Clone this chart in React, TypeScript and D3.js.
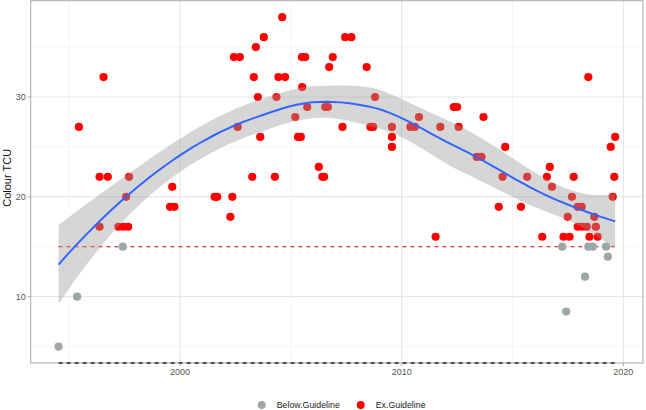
import React from 'react';
import * as d3 from 'd3';

// ---- data ----
const exYear = [
  1995.44, 1996.55, 1996.37, 1996.74, 1997.7, 1999.65, 1997.57, 1996.37, 1997.22, 1997.45,
  1997.66, 1999.55, 1999.75, 2001.56, 2001.68, 2002.36, 2002.27, 2002.6, 2003.26, 2004.28,
  2003.62, 2003.51, 2004.35, 2003.33, 2004.44, 2004.74, 2002.43, 2002.7, 2003.42, 2003.78,
  2004.61, 2005.5, 2005.65, 2005.51, 2005.74, 2005.2, 2005.32, 2005.45, 2006.26, 2006.42,
  2006.5, 2006.55, 2006.67, 2006.73, 2006.89, 2007.45, 2007.73, 2007.33, 2008.42, 2008.8,
  2008.59, 2008.71, 2009.56, 2009.56, 2009.56, 2010.39, 2010.59, 2010.78, 2011.53, 2011.74,
  2012.35, 2012.5, 2012.57, 2013.69, 2013.39, 2013.6, 2014.67, 2014.55, 2014.38, 2015.38,
  2015.66, 2016.34, 2016.68, 2016.55, 2016.78, 2017.3, 2017.57, 2017.76, 2017.68, 2017.49,
  2017.94, 2018.12, 2017.94, 2018.14, 2018.35, 2018.69, 2018.76, 2018.47, 2018.84, 2018.42,
  2019.63, 2019.43, 2019.59, 2019.52,
];
const exValue = [
  27, 32, 22, 22, 22, 21, 20, 17, 17, 17,
  17, 19, 19, 20, 20, 20, 18, 27, 22, 22,
  26, 30, 30, 32, 32, 32, 34, 34, 35, 36,
  38, 34, 34, 31, 29, 28, 26, 26, 23, 22,
  22, 29, 29, 33, 34, 36, 36, 27, 33, 30,
  27, 27, 27, 26, 25, 27, 27, 28, 16, 27,
  29, 29, 27, 28, 24, 24, 25, 22, 19, 19,
  22, 16, 23, 22, 21, 16, 16, 22, 20, 18,
  19, 19, 17, 17, 17, 18, 17, 16, 16, 32,
  26, 25, 22, 20,
];
const belowYear = [1994.52, 1995.36, 1997.42, 2017.24, 2017.42, 2018.27, 2018.42, 2018.62, 2019.22, 2019.3];
const belowValue = [5, 10, 15, 15, 8.5, 12, 15, 15, 15, 14];

const guidelineValue = 15;
const xTicks = [2000, 2010, 2020];
const xMinorTicks = [1995, 2005, 2015];
const yTicks = [10, 20, 30];
const yMinorTicks = [5, 15, 25, 35];
const seriesNames = ['Below.Guideline', 'Ex.Guideline'];
const seriesColors = ['#9DA7A7', '#FF0000'];
const yLabel = 'Colour TCU';

// ---- loess (span 0.75, degree 2, kd-tree + Hermite interpolation) with standard errors ----
function invert3(m: number[][]) {
  const [a, b, c] = m[0];
  const [d, e, f] = m[1];
  const [g, h, i] = m[2];
  const A = e * i - f * h, B = -(d * i - f * g), C = d * h - e * g;
  const D = -(b * i - c * h), E = a * i - c * g, F = -(a * h - b * g);
  const G = b * f - c * e, H = -(a * f - c * d), I = a * e - b * d;
  const det = a * A + b * B + c * C;
  return [
    [A / det, D / det, G / det],
    [B / det, E / det, H / det],
    [C / det, F / det, I / det],
  ];
}

// returns operator vectors for the local value and local slope at x0
function localOperator(xs: number[], x0: number, span: number) {
  const n = xs.length;
  const d = xs.map((x) => Math.abs(x - x0));
  const sorted = [...d].sort((p, q) => p - q);
  const q = Math.floor(n * span);
  const h = Math.max(sorted[q - 1], 1e-9) * 1.000001;
  const w = d.map((di) => {
    const r = di / h;
    return r < 1 ? Math.pow(1 - r * r * r, 3) : 0;
  });
  const S = [[0, 0, 0], [0, 0, 0], [0, 0, 0]];
  for (let k = 0; k < n; k++) {
    const t = xs[k] - x0;
    const bs = [1, t, t * t];
    for (let a = 0; a < 3; a++) for (let b = 0; b < 3; b++) S[a][b] += w[k] * bs[a] * bs[b];
  }
  const inv = invert3(S);
  const val = xs.map((x, k) => {
    const t = x - x0;
    return w[k] * (inv[0][0] + inv[0][1] * t + inv[0][2] * t * t);
  });
  const slope = xs.map((x, k) => {
    const t = x - x0;
    return w[k] * (inv[1][0] + inv[1][1] * t + inv[1][2] * t * t);
  });
  return { val, slope };
}

function kdVertices(xs: number[], span: number) {
  const s = [...xs].sort((a, b) => a - b);
  const n = s.length;
  const fc = Math.floor(n * span * 0.2);
  const lo = s[0], hi = s[n - 1];
  const mu = 0.005 * Math.max(hi - lo, 1e-10);
  const verts = [lo - mu, hi + mu];
  const split = (l: number, u: number) => {
    if (u - l + 1 <= fc) return;
    const m = Math.floor((l + u) / 2);
    const v = (s[m] + s[m + 1]) / 2;
    verts.push(v);
    split(l, m);
    split(m + 1, u);
  };
  split(0, n - 1);
  return Array.from(new Set(verts)).sort((a, b) => a - b);
}

function tQuantile975(df: number) {
  const z = 1.959964;
  return z + (z ** 3 + z) / (4 * df) + (5 * z ** 5 + 16 * z ** 3 + 3 * z) / (96 * df * df);
}

function loessSmooth(xs: number[], ys: number[], span = 0.75, nOut = 80) {
  const n = xs.length;
  const verts = kdVertices(xs, span);
  const ops = verts.map((v) => localOperator(xs, v, span));
  const interp = (x0: number) => {
    let j = d3.bisectRight(verts, x0) - 1;
    j = Math.max(0, Math.min(verts.length - 2, j));
    const v0 = verts[j], v1 = verts[j + 1];
    const hh = v1 - v0;
    const t = (x0 - v0) / hh;
    const h00 = 2 * t ** 3 - 3 * t ** 2 + 1;
    const h10 = t ** 3 - 2 * t ** 2 + t;
    const h01 = -2 * t ** 3 + 3 * t ** 2;
    const h11 = t ** 3 - t ** 2;
    const a = ops[j], b = ops[j + 1];
    return a.val.map(
      (_, k) => h00 * a.val[k] + h10 * hh * a.slope[k] + h01 * b.val[k] + h11 * hh * b.slope[k]
    );
  };
  const L = xs.map((x) => interp(x));
  const fitted = L.map((row) => d3.sum(row, (l, k) => l * ys[k]));
  const rss = d3.sum(fitted, (f, k) => (ys[k] - f) ** 2);
  const IL = L.map((row, r) => row.map((v, c) => (r === c ? 1 : 0) - v));
  const M: number[][] = [];
  for (let a = 0; a < n; a++) M.push(new Array(n).fill(0));
  for (let a = 0; a < n; a++) {
    for (let b = a; b < n; b++) {
      let s = 0;
      for (let k = 0; k < n; k++) s += IL[k][a] * IL[k][b];
      M[a][b] = s;
      M[b][a] = s;
    }
  }
  let one = 0, two = 0;
  for (let a = 0; a < n; a++) {
    one += M[a][a];
    for (let b = 0; b < n; b++) two += M[a][b] * M[a][b];
  }
  const sigma = Math.sqrt(rss / one);
  const df = (one * one) / two;
  const tq = tQuantile975(df);
  const [lo, hi] = d3.extent(xs) as [number, number];
  const out: { x: number; y: number; ymin: number; ymax: number }[] = [];
  for (let i = 0; i < nOut; i++) {
    const x0 = lo + ((hi - lo) * i) / (nOut - 1);
    const l = interp(x0);
    const y = d3.sum(l, (v, k) => v * ys[k]);
    const se = sigma * Math.sqrt(d3.sum(l, (v) => v * v));
    out.push({ x: x0, y, ymin: y - tq * se, ymax: y + tq * se });
  }
  return out;
}

export default function App() {
  const W = 646, H = 410;
  const left = 30.7, right = 643, top = 0.7, bottom = 363;
  const font = "'Liberation Sans', Arial, Helvetica, sans-serif";

  const allX = [...belowYear, ...exYear];
  const allY = [...belowValue, ...exValue];
  const [xMin, xMax] = d3.extent(allX) as [number, number];
  const [yMin, yMax] = d3.extent(allY) as [number, number];
  const xPad = (xMax - xMin) * 0.05;
  const yPad = (yMax - yMin) * 0.05;

  const x = d3.scaleLinear().domain([xMin - xPad, xMax + xPad]).range([left, right]);
  const y = d3.scaleLinear().domain([yMin - yPad, yMax + yPad]).range([bottom, top]);

  const smooth = loessSmooth(allX, allY);
  const area = d3
    .area<{ x: number; ymin: number; ymax: number }>()
    .x((d) => x(d.x))
    .y0((d) => y(d.ymin))
    .y1((d) => y(d.ymax));
  const line = d3
    .line<{ x: number; y: number }>()
    .x((d) => x(d.x))
    .y((d) => y(d.y));

  const r = 4.1;
  const baseValue = y.domain()[0];

  return (
    <svg
      width={W}
      height={H}
      style={{ position: 'absolute', left: 0, top: 0, background: '#fff' }}
      fontFamily={font}
    >
      <defs>
        <clipPath id="panel">
          <rect x={left} y={top} width={right - left} height={bottom - top} />
        </clipPath>
      </defs>
      {/* grid */}
      {yMinorTicks.map((t) => (
        <line key={'ym' + t} x1={left} x2={right} y1={y(t)} y2={y(t)} stroke="#efefef" strokeWidth={0.6} />
      ))}
      {xMinorTicks.map((t) => (
        <line key={'xm' + t} x1={x(t)} x2={x(t)} y1={top} y2={bottom} stroke="#efefef" strokeWidth={0.6} />
      ))}
      {yTicks.map((t) => (
        <line key={'yg' + t} x1={left} x2={right} y1={y(t)} y2={y(t)} stroke="#e4e4e4" strokeWidth={1} />
      ))}
      {xTicks.map((t) => (
        <line key={'xg' + t} x1={x(t)} x2={x(t)} y1={top} y2={bottom} stroke="#e4e4e4" strokeWidth={1} />
      ))}

      <g clipPath="url(#panel)">
        <line
          x1={x(xMin)}
          x2={x(xMax)}
          y1={y(guidelineValue)}
          y2={y(guidelineValue)}
          stroke="#FF0000"
          strokeWidth={1}
          strokeDasharray="4,4"
        />
        {belowYear.map((yr, i) => (
          <circle key={'b' + i} cx={x(yr)} cy={y(belowValue[i])} r={r} fill={seriesColors[0]} />
        ))}
        {exYear.map((yr, i) => (
          <circle key={'e' + i} cx={x(yr)} cy={y(exValue[i])} r={r} fill={seriesColors[1]} />
        ))}
        <path d={area(smooth) || ''} fill="#999999" fillOpacity={0.4} />
        <path d={line(smooth) || ''} fill="none" stroke="#3366FF" strokeWidth={2} />
      </g>

      <rect x={left} y={top} width={right - left} height={bottom - top} fill="none" stroke="#a8a8a8" strokeWidth={1} />
      <line
        x1={x(xMin)}
        x2={x(xMax)}
        y1={y(baseValue)}
        y2={y(baseValue)}
        stroke="#222"
        strokeWidth={1.4}
        strokeDasharray="4,4"
      />

      {yTicks.map((t) => (
        <g key={'yt' + t}>
          <line x1={left - 3} x2={left} y1={y(t)} y2={y(t)} stroke="#a8a8a8" />
          <text x={left - 5} y={y(t)} dy="0.35em" textAnchor="end" fontSize={9} fill="#555">
            {t}
          </text>
        </g>
      ))}
      {xTicks.map((t) => (
        <g key={'xt' + t}>
          <line x1={x(t)} x2={x(t)} y1={bottom} y2={bottom + 3} stroke="#a8a8a8" />
          <text x={x(t)} y={bottom + 12} textAnchor="middle" fontSize={9} fill="#555">
            {t}
          </text>
        </g>
      ))}
      <text
        transform={`translate(10.5, ${(top + bottom) / 2 - 4}) rotate(-90)`}
        textAnchor="middle"
        fontSize={11}
        fill="#111"
      >
        {yLabel}
      </text>

      {seriesNames.map((name, i) => {
        const cx = i === 0 ? 261.7 : 360.7;
        return (
          <g key={name}>
            <circle cx={cx} cy={405} r={4} fill={seriesColors[i]} />
            <text x={cx + 15} y={405} dy="0.35em" fontSize={8.8} fill="#222">
              {name}
            </text>
          </g>
        );
      })}
    </svg>
  );
}
